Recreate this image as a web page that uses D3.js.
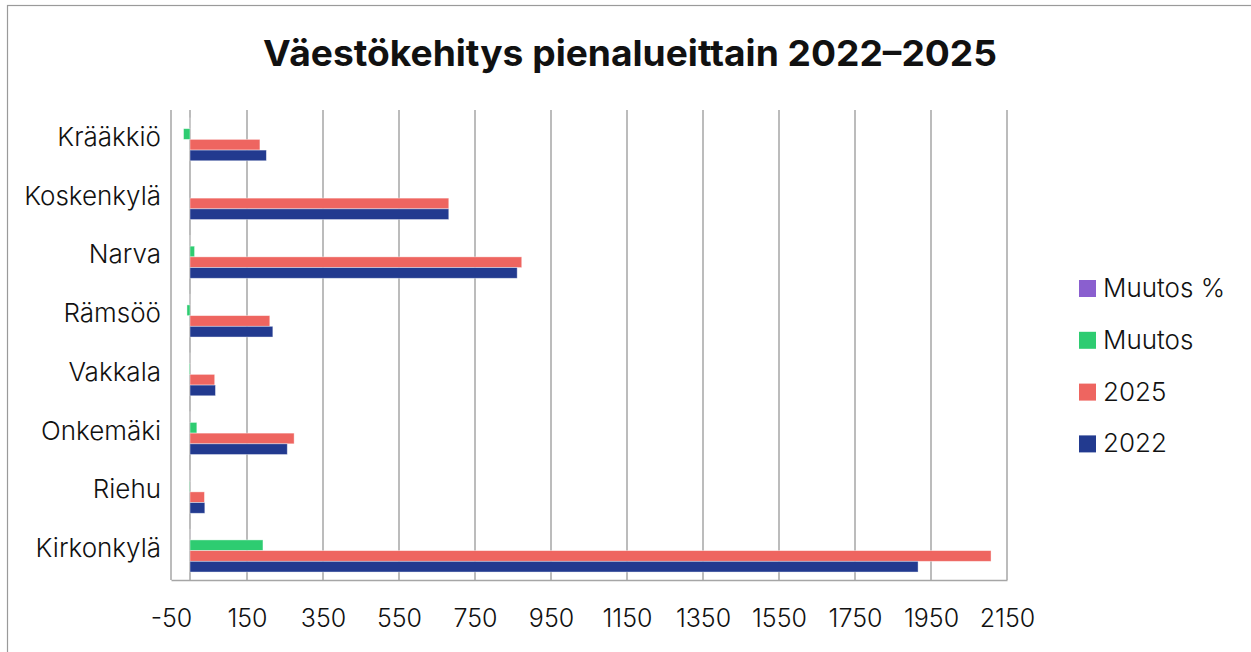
<!DOCTYPE html>
<html>
<head>
<meta charset="utf-8">
<script src="https://cdn.jsdelivr.net/npm/d3@7"></script>
<style>
  body { margin: 0; background: #fff; }
  text { font-family: Inter, "Noto Sans", sans-serif; fill: #111; }
</style>
</head>
<body>
<div class="chart"></div>
<script>
// Population development by small area 2022-2025 (horizontal grouped bars)

// categories, top to bottom as drawn
var areas = ["Krääkkiö", "Koskenkylä", "Narva", "Rämsöö", "Vakkala", "Onkemäki", "Riehu", "Kirkonkylä"];

// series values
var pop2022 = [201, 681, 861, 218, 67, 256, 39, 1916];
var pop2025 = [184, 681, 873, 210, 65, 274, 38, 2108];
var muutos = [-17, 0, 12, -8, -2, 18, -1, 192];
var muutosPct = [-0.08, 0, 0.01, -0.04, -0.03, 0.07, -0.03, 0.10];

// series names (top bar in group first) and tick labels
var seriesNames = ["Muutos %", "Muutos", "2025", "2022"];
var seriesColors = ["#8a5fcf", "#2ecc71", "#ee6560", "#223a8f"];
var xTicks = [-50, 150, 350, 550, 750, 950, 1150, 1350, 1550, 1750, 1950, 2150];

var seriesValues = [muutosPct, muutos, pop2025, pop2022];

var svgWidth = 1251;
var svgHeight = 652;
var plot = { left: 171, right: 1007, top: 110, bottom: 580 };

var svg = d3.select(".chart")
    .append("svg")
    .attr("width", svgWidth)
    .attr("height", svgHeight);

// chart border
svg.append("rect")
    .attr("x", 7.5).attr("y", 5.5)
    .attr("width", 1260).attr("height", 700)
    .attr("fill", "none")
    .attr("stroke", "#9a9a9a")
    .attr("stroke-width", 1.2);

// title
svg.append("text")
    .attr("x", 630)
    .attr("y", 66)
    .attr("text-anchor", "middle")
    .attr("font-size", 36)
    .attr("font-weight", 700)
    .attr("textLength", 734)
    .attr("lengthAdjust", "spacingAndGlyphs")
    .text("Väestökehitys pienalueittain 2022–2025");

// scales
var x = d3.scaleLinear()
    .domain([-50, 2150])
    .range([plot.left, plot.right]);

var y = d3.scaleBand()
    .domain(areas)
    .range([plot.top, plot.bottom]);

var ySub = d3.scaleBand()
    .domain(seriesNames)
    .range([0, y.bandwidth()])
    .paddingOuter(0.745);

// vertical gridlines
svg.append("g")
    .selectAll("line")
    .data(xTicks)
    .enter().append("line")
    .attr("x1", function(d) { return x(d); })
    .attr("x2", function(d) { return x(d); })
    .attr("y1", plot.top)
    .attr("y2", plot.bottom)
    .attr("stroke", "#a6a6a6")
    .attr("stroke-width", 1.5);

// category axis at zero
svg.append("line")
    .attr("x1", x(0)).attr("x2", x(0))
    .attr("y1", plot.top).attr("y2", plot.bottom)
    .attr("stroke", "#a6a6a6")
    .attr("stroke-width", 1.5);

// bottom axis
var bottomAxis = d3.axisBottom(x)
    .tickValues(xTicks)
    .tickSize(0)
    .tickPadding(29)
    .tickFormat(function(d) { return String(d); });

var gx = svg.append("g")
    .attr("transform", "translate(0," + plot.bottom + ")")
    .call(bottomAxis);
gx.select(".domain").attr("stroke", "#a6a6a6").attr("stroke-width", 1.5);
gx.selectAll("text")
    .attr("font-size", 25)
    .attr("font-weight", 300)
    .attr("font-family", "Inter, sans-serif")
    .attr("fill", "#111");

// category labels
var leftAxis = d3.axisLeft(y).tickSize(0).tickPadding(10);
var gy = svg.append("g")
    .attr("transform", "translate(" + plot.left + ",0)")
    .call(leftAxis);
gy.select(".domain").remove();
gy.selectAll("text")
    .attr("dy", "0.25em")
    .attr("font-size", 26)
    .attr("font-weight", 300)
    .attr("font-family", "Inter, sans-serif")
    .attr("fill", "#111");

// bars
seriesNames.forEach(function(name, i) {
    svg.append("g")
        .selectAll("rect")
        .data(seriesValues[i])
        .enter().append("rect")
        .attr("x", function(d) { return x(Math.min(0, d)); })
        .attr("y", function(d, j) { return y(areas[j]) + ySub(name); })
        .attr("width", function(d) { return Math.abs(x(d) - x(0)); })
        .attr("height", ySub.bandwidth())
        .attr("fill", seriesColors[i])
        .attr("stroke", "rgba(255,255,255,0.5)")
        .attr("stroke-width", 0.8);
});

// legend
var legend = svg.append("g")
    .selectAll("g")
    .data(seriesNames)
    .enter().append("g")
    .attr("transform", function(d, i) { return "translate(1079," + (280 + i * 51.8) + ")"; });

legend.append("rect")
    .attr("width", 17)
    .attr("height", 17)
    .attr("fill", function(d, i) { return seriesColors[i]; });

legend.append("text")
    .attr("x", 24)
    .attr("y", 17)
    .attr("font-size", 26)
    .attr("font-weight", 300)
    .text(function(d) { return d; });
</script>
</body>
</html>
